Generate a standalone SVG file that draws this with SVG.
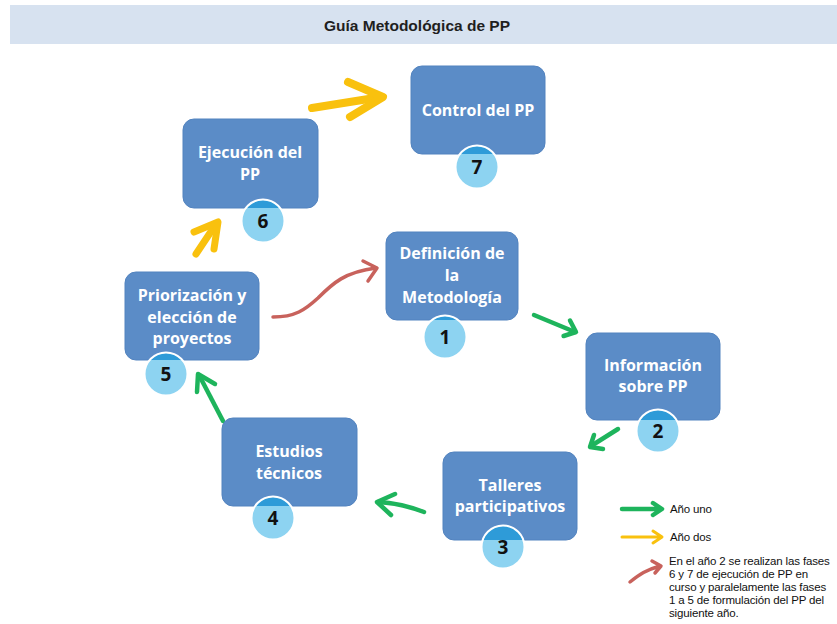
<svg xmlns="http://www.w3.org/2000/svg" width="837" height="624" viewBox="0 0 837 624">
<style>
.box{fill:#5B8CC7;stroke:#5283BF;stroke-width:1}
.lbl{font-family:"Open Sans",Lato,"Liberation Sans",sans-serif;font-weight:700;font-size:16px;fill:#ffffff;text-anchor:middle}
.circ{fill:#8DD3F1}
.cap{fill:#2E9BD8}
.ring{fill:none;stroke:#ffffff;stroke-width:2}
.num{font-family:"Open Sans",Lato,"Liberation Sans",sans-serif;font-weight:700;font-size:19px;fill:#111111;text-anchor:middle}
.g{fill:none;stroke:#1EB45C;stroke-width:4.5;stroke-linecap:round;stroke-linejoin:round}
.y{fill:none;stroke:#F9C10E;stroke-linecap:round;stroke-linejoin:round}
.r{fill:none;stroke:#C8625C;stroke-width:3.5;stroke-linecap:round;stroke-linejoin:round}
.leg{font-family:"Liberation Sans",Arial,sans-serif;font-size:11.5px;fill:#111111;letter-spacing:-0.15px}
</style>
<rect x="0" y="0" width="837" height="624" fill="#ffffff"/>
<g id="title">
<rect x="10" y="5" width="827" height="39" fill="#D7E2F0"/>
<text x="417" y="31" font-family="'Liberation Sans',Arial,sans-serif" font-weight="700" font-size="15.5" fill="#1f1f1f" text-anchor="middle">Guía Metodológica de PP</text>
</g>
<g id="connectors">
<path class="y" stroke-width="8" d="M312,108 L381,97"/>
<path class="y" stroke-width="8" d="M348,82 L383,97 L350,117"/>
<path class="y" stroke-width="7" d="M196,254 L216,224"/>
<path class="y" stroke-width="7" d="M194,232 L218,222 L214,249"/>
<path class="r" d="M273,317 C295,317 305,310 318,298 C333,283 345,272 376,268"/>
<path class="r" d="M363,261 L377,268 L368,281"/>
<path class="g" d="M534,315 L575,332"/>
<path class="g" d="M570,320.5 L576,332 L563.6,336"/>
<path class="g" d="M618,429 L591,446"/>
<path class="g" d="M594,435 L590,447 L603,449"/>
<path class="g" d="M424,512 Q400,503 378,502"/>
<path class="g" d="M395,494 L377,502 L391,515"/>
<path class="g" d="M223,421 L199,375"/>
<path class="g" d="M197,392 L198,374 L215,384"/>
</g>
<g id="node7">
<rect class="box" x="411" y="66" width="134" height="88" rx="11"/>
<text class="lbl" x="478" y="116">Control del PP</text>
<circle class="circ" cx="477" cy="167" r="21.5"/>
<path class="cap" d="M460.5,154 A21,21 0 0 1 493.5,154 Z"/>
<circle class="ring" cx="477" cy="167" r="21.5"/>
<text class="num" x="477" y="174">7</text>
</g>
<g id="node6">
<rect class="box" x="183" y="119" width="135" height="89" rx="11"/>
<text class="lbl" x="250" y="158">Ejecución del</text>
<text class="lbl" x="250" y="180">PP</text>
<circle class="circ" cx="263" cy="221" r="21.5"/>
<path class="cap" d="M246.5,208 A21,21 0 0 1 279.5,208 Z"/>
<circle class="ring" cx="263" cy="221" r="21.5"/>
<text class="num" x="263" y="228">6</text>
</g>
<g id="node1">
<rect class="box" x="386" y="232" width="132" height="88" rx="11"/>
<text class="lbl" x="452" y="259">Definición de</text>
<text class="lbl" x="452" y="281">la</text>
<text class="lbl" x="452" y="303">Metodología</text>
<circle class="circ" cx="445" cy="337" r="21.5"/>
<path class="cap" d="M432.7,320 A21,21 0 0 1 457.3,320 Z"/>
<circle class="ring" cx="445" cy="337" r="21.5"/>
<text class="num" x="445" y="344">1</text>
</g>
<g id="node5">
<rect class="box" x="125" y="272" width="134" height="88" rx="11"/>
<text class="lbl" x="192" y="301">Priorización y</text>
<text class="lbl" x="192" y="323">elección de</text>
<text class="lbl" x="192" y="344">proyectos</text>
<circle class="circ" cx="166" cy="374" r="21.5"/>
<path class="cap" d="M150.35,360 A21,21 0 0 1 181.65,360 Z"/>
<circle class="ring" cx="166" cy="374" r="21.5"/>
<text class="num" x="166" y="381">5</text>
</g>
<g id="node2">
<rect class="box" x="586" y="333" width="134" height="87" rx="11"/>
<text class="lbl" x="653" y="371">Información</text>
<text class="lbl" x="653" y="392">sobre PP</text>
<circle class="circ" cx="658" cy="431" r="21.5"/>
<path class="cap" d="M640.1,420 A21,21 0 0 1 675.9,420 Z"/>
<circle class="ring" cx="658" cy="431" r="21.5"/>
<text class="num" x="658" y="438">2</text>
</g>
<g id="node4">
<rect class="box" x="222" y="418" width="135" height="88" rx="11"/>
<text class="lbl" x="289" y="457">Estudios</text>
<text class="lbl" x="289" y="479">técnicos</text>
<circle class="circ" cx="273" cy="518" r="21.5"/>
<path class="cap" d="M255.8,506 A21,21 0 0 1 290.2,506 Z"/>
<circle class="ring" cx="273" cy="518" r="21.5"/>
<text class="num" x="273" y="525">4</text>
</g>
<g id="node3">
<rect class="box" x="443" y="452" width="134" height="88" rx="11"/>
<text class="lbl" x="510" y="491">Talleres</text>
<text class="lbl" x="510" y="512">participativos</text>
<circle class="circ" cx="503" cy="547" r="21.5"/>
<path class="cap" d="M483.2,540 A21,21 0 0 1 522.8,540 Z"/>
<circle class="ring" cx="503" cy="547" r="21.5"/>
<text class="num" x="503" y="554">3</text>
</g>
<g id="legend">
<path class="g" stroke-width="3" d="M622,509 L661,509 M653,503 L662,509 L653,515"/>
<path class="y" stroke-width="3" d="M622,537 L661,537 M653,531 L662,537 L653,543"/>
<path class="r" stroke-width="3" d="M630,582 C640,574 646,570 660,566 M652,561 L661,566 L655,573"/>
<text class="leg" x="670" y="513">Año uno</text>
<text class="leg" x="670" y="541">Año dos</text>
<text class="leg" x="669" y="565">En el año 2 se realizan las fases</text>
<text class="leg" x="669" y="578">6 y 7 de ejecución de PP en</text>
<text class="leg" x="669" y="591">curso y paralelamente las fases</text>
<text class="leg" x="669" y="604">1 a 5 de formulación del PP del</text>
<text class="leg" x="669" y="617">siguiente año.</text>
</g>
</svg>
